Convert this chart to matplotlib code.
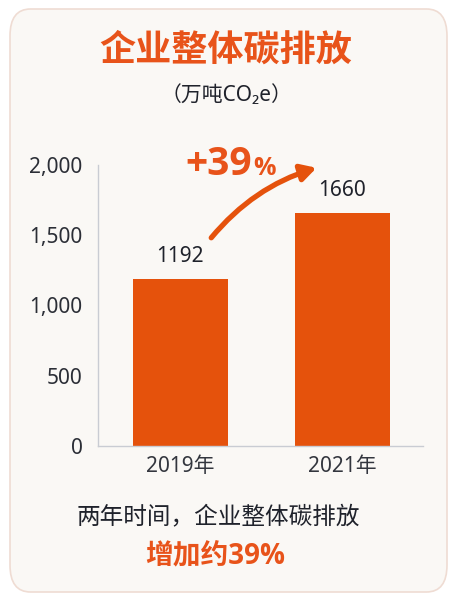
import matplotlib
matplotlib.use("Agg")
import matplotlib.pyplot as plt
from matplotlib.patches import FancyBboxPatch

#  Data.
years = ["2019年", "2021年"]
emissions = [1192, 1660]
yticks = [0, 500, 1000, 1500, 2000]
ytick_labels = ["0", "500", "1,000", "1,500", "2,000"]
growth_big = "+39"
growth_small = "%"
title = "企业整体碳排放"
unit = "（万吨CO₂e）"
note_line1 = "两年时间，企业整体碳排放"
note_line2 = "增加约39%"

#  Colours.
orange = "#e5520c"
orange_text = "#e8531a"
dark = "#1f222b"
fonts = ["Noto Sans", "Noto Sans CJK SC", "DejaVu Sans"]
bold_fonts = ["Open Sans", "Noto Sans CJK SC", "DejaVu Sans"]
plt.rcParams["font.family"] = fonts

W, H = 455, 600
fig = plt.figure(figsize=(W / 100, H / 100), dpi=100)
fig.patch.set_facecolor("white")

#  Rounded card behind everything.
card = FancyBboxPatch((10 / W, 8 / H), 437 / W, 583 / H,
                      boxstyle="round,pad=0,rounding_size=0.045",
                      transform=fig.transFigure, facecolor="#faf8f5",
                      edgecolor="#efdcd3", linewidth=1.2, zorder=-5)
fig.patches.append(card)

#  Titles.
fig.text(226 / W, 1 - 52 / H, title, ha="center", va="center",
         fontsize=26, fontweight="bold", color=orange_text, family=bold_fonts)
fig.text(226 / W, 1 - 95 / H, unit, ha="center", va="center",
         fontsize=15, color=dark)

#  Bar chart.
ax = fig.add_axes([98 / W, 1 - 446 / H, 325 / W, 281 / H])
ax.set_zorder(1)
ax.set_facecolor("none")
x = list(range(len(years)))
ax.bar(x, emissions, width=0.586, color=orange, zorder=2)
ax.set_xlim(-0.509, 1.497)
ax.set_ylim(0, 2000)
ax.set_yticks(yticks)
ax.set_yticklabels(ytick_labels)
ax.set_xticks(x)
ax.set_xticklabels(years)
ax.tick_params(axis="y", length=0, pad=11, labelsize=15, labelcolor="#2b2e36")
ax.tick_params(axis="x", length=0, pad=7, labelsize=15, labelcolor="#33363e")
for s in ["top", "right"]:
    ax.spines[s].set_visible(False)
for s in ["left", "bottom"]:
    ax.spines[s].set_color("#c9ccd3")
    ax.spines[s].set_linewidth(1.0)

#  Value labels above bars.
for xi, v in zip(x, emissions):
    ax.annotate(str(v), (xi, v), xytext=(0, 16), textcoords="offset points",
                ha="center", va="center", fontsize=15, color=dark,
                fontweight="medium")

#  Curved growth arrow between the two bars.
ax.annotate("", xy=(0.84, emissions[1] + 320), xytext=(0.19, emissions[0] + 290),
            arrowprops=dict(arrowstyle="-|>,head_length=0.9,head_width=0.5",
                            color=orange, lw=3.8,
                            connectionstyle="arc3,rad=-0.15",
                            shrinkA=0, shrinkB=0),
            annotation_clip=False, zorder=3)

#  "+39%" label.
fig.text(252 / W, 1 - 175 / H, growth_big, ha="right", va="baseline",
         fontsize=28, fontweight="bold", color=orange_text, family=bold_fonts)
fig.text(253 / W, 1 - 175 / H, growth_small, ha="left", va="baseline",
         fontsize=18, fontweight="bold", color=orange_text, family=bold_fonts)

#  Notes at the bottom.
fig.text(218 / W, 1 - 518 / H, note_line1, ha="center", va="center",
         fontsize=17, color=dark)
fig.text(215 / W, 1 - 557 / H, note_line2, ha="center", va="center",
         fontsize=20, fontweight="bold", color=orange_text, family=bold_fonts)

fig.savefig("out.png", dpi=100, facecolor=fig.get_facecolor())
